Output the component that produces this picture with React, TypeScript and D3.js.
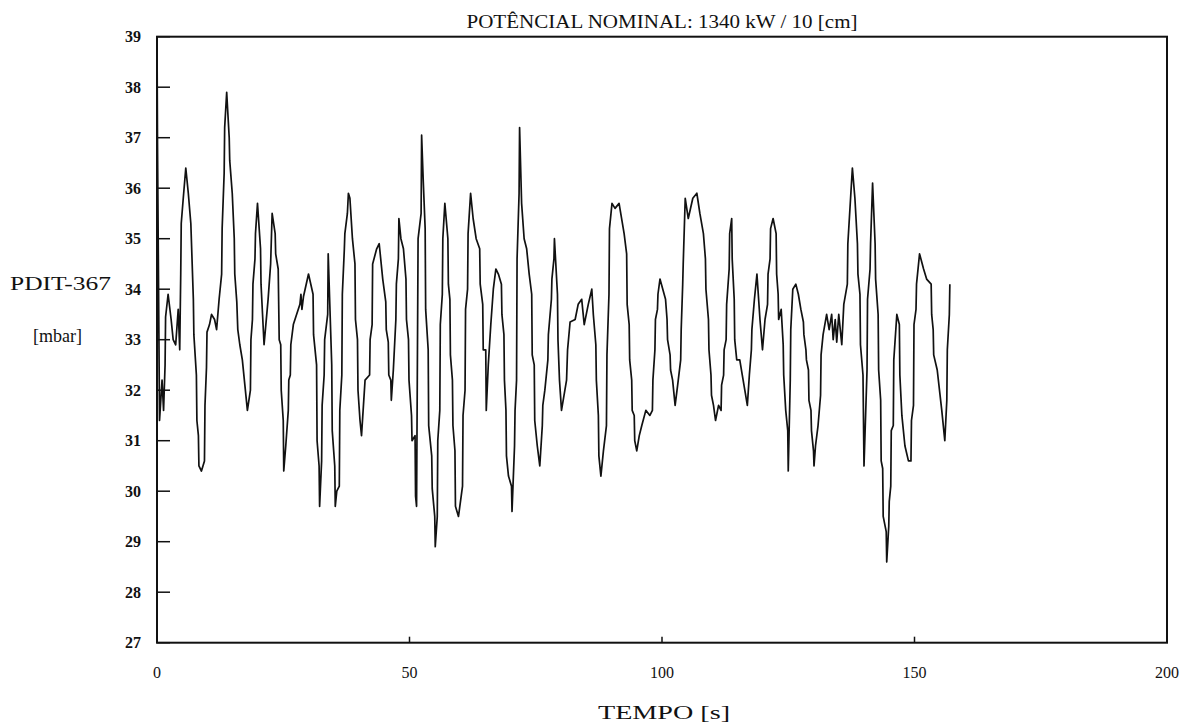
import React from "react";
import * as d3 from "d3";

const TITLE = "POTÊNCIAL NOMINAL: 1340 kW / 10 [cm]";
const Y_LABEL_TOP = "PDIT-367";
const Y_LABEL_UNIT = "[mbar]";
const X_LABEL = "TEMPO  [s]";

const xTicks = [0, 50, 100, 150, 200];
const yTicks = [27, 28, 29, 30, 31, 32, 33, 34, 35, 36, 37, 38, 39];
const xDomain: [number, number] = [0, 200];
const yDomain: [number, number] = [27, 39];

// [time s, pressure mbar]
const pdit367: [number, number][] = [
  [0.0, 39.0], [0.1, 36.9], [0.5, 31.4], [1.0, 32.2], [1.3, 31.6], [1.6, 32.5], [1.7, 33.45],
  [2.2, 33.9], [2.8, 33.4], [3.2, 33.0], [3.7, 32.9], [4.2, 33.6], [4.5, 32.8], [4.7, 34.3],
  [4.8, 35.3], [5.2, 35.8], [5.7, 36.4], [6.2, 35.9], [6.7, 35.3], [7.2, 33.8], [7.3, 33.1],
  [7.8, 32.3], [7.9, 31.4], [8.2, 31.1], [8.3, 30.5], [8.8, 30.4], [9.4, 30.6], [9.5, 31.7],
  [9.8, 32.45], [9.9, 33.15], [10.4, 33.3], [10.8, 33.5], [11.4, 33.4], [11.8, 33.2], [12.3, 33.8],
  [12.8, 34.3], [12.9, 35.2], [13.3, 36.3], [13.4, 37.2], [13.8, 37.9], [14.3, 37.0], [14.4, 36.55],
  [14.9, 35.9], [15.3, 35.0], [15.4, 34.3], [15.8, 33.75], [16.0, 33.2], [16.4, 32.9], [16.9, 32.6],
  [17.4, 32.1], [17.9, 31.6], [18.5, 32.0], [18.6, 33.0], [18.9, 33.4], [19.0, 34.1], [19.4, 34.6],
  [19.5, 35.1], [19.9, 35.7], [20.5, 34.8], [20.6, 34.1], [20.9, 33.5], [21.2, 32.9], [22.0, 33.8],
  [22.5, 34.5], [22.8, 35.5], [23.4, 35.1], [23.5, 34.7], [24.0, 34.4], [24.2, 33.0], [24.5, 32.9],
  [24.6, 32.0], [25.0, 31.4], [25.1, 30.4], [25.5, 30.9], [26.0, 31.6], [26.1, 32.2],
  [26.4, 32.3], [26.5, 32.9], [27.0, 33.3], [28.3, 33.7], [28.5, 33.9], [28.7, 33.6], [29.0, 33.85],
  [30.0, 34.3], [30.9, 33.9], [31.0, 33.1], [31.6, 32.5], [31.7, 31.0], [32.1, 30.5], [32.2, 29.7],
  [32.6, 30.6], [32.7, 31.7], [33.1, 32.3], [33.2, 33.0], [33.8, 33.5], [33.9, 34.7], [34.6, 32.5],
  [34.7, 31.2], [35.2, 30.5], [35.3, 29.7], [35.6, 30.0], [36.1, 30.1], [36.2, 31.6], [36.6, 32.3],
  [36.7, 33.9], [37.1, 34.8], [37.2, 35.1], [37.7, 35.5], [37.9, 35.9], [38.2, 35.8], [38.7, 35.0],
  [39.2, 34.5], [39.3, 33.4], [39.7, 33.0], [39.8, 32.0], [40.2, 31.4], [40.5, 31.1], [41.2, 32.2],
  [42.1, 32.3], [42.2, 33.0], [42.6, 33.3], [42.7, 34.5], [43.5, 34.8], [44.0, 34.9], [44.7, 34.2],
  [45.3, 33.75], [45.4, 33.2], [45.8, 32.95], [45.9, 32.3], [46.3, 32.2], [46.4, 31.8], [46.8, 32.4],
  [47.3, 33.4], [47.4, 34.1], [47.8, 34.6], [47.9, 35.4], [48.3, 35.0], [48.8, 34.8], [49.3, 34.2],
  [49.4, 33.4], [49.8, 33.0], [49.9, 32.2], [50.4, 31.5], [50.5, 31.0], [51.1, 31.1], [51.2, 29.9],
  [51.4, 29.7], [51.6, 33.2], [51.7, 35.0], [52.3, 35.5], [52.4, 37.05], [52.7, 36.2],
  [53.1, 35.2], [53.2, 33.6], [53.7, 32.8], [53.8, 31.3], [54.4, 30.7], [54.5, 30.05], [55.0, 29.5],
  [55.1, 28.9], [55.5, 29.5], [55.6, 31.0], [56.0, 31.6], [56.1, 33.3], [56.5, 33.9], [56.6, 35.0],
  [57.0, 35.7], [57.6, 35.0], [57.7, 34.1], [58.0, 33.8], [58.1, 32.7], [58.5, 32.2], [58.6, 31.3],
  [59.0, 30.8], [59.1, 29.7], [59.7, 29.5], [60.5, 30.1], [60.6, 31.5], [61.0, 32.0], [61.1, 33.6],
  [61.5, 34.0], [61.6, 35.1], [62.1, 35.9], [62.6, 35.4], [63.2, 35.0], [63.9, 34.8], [64.0, 34.1],
  [64.5, 33.7], [64.6, 32.8], [65.1, 32.8], [65.2, 31.6], [65.6, 32.5], [66.1, 33.3], [66.6, 34.0],
  [67.1, 34.4], [67.6, 34.3], [68.2, 34.1], [68.3, 33.5], [68.7, 33.1], [68.8, 32.2], [69.1, 31.6],
  [69.2, 30.7], [69.6, 30.3], [70.2, 30.1], [70.3, 29.6], [70.8, 30.9], [70.9, 31.6], [71.2, 32.2],
  [71.3, 34.6], [71.7, 35.9], [71.8, 37.2], [72.2, 35.7], [72.7, 35.0], [73.2, 34.8], [73.7, 34.3],
  [74.2, 33.9], [74.3, 32.7], [74.7, 32.5], [74.8, 31.4], [75.3, 30.9], [75.8, 30.5], [76.3, 31.3],
  [76.4, 31.7], [76.8, 32.0], [77.4, 32.6], [77.5, 33.1], [78.1, 33.8], [78.2, 34.2], [78.6, 34.6],
  [78.7, 35.0], [79.3, 33.9], [79.4, 33.0], [79.7, 32.2],
  [80.1, 31.6], [81.1, 32.2], [81.3, 32.8], [81.8, 33.35], [82.8, 33.4], [83.4, 33.7], [84.1, 33.8],
  [84.6, 33.3], [85.4, 33.7], [86.1, 34.0], [86.4, 33.5], [86.9, 32.9], [87.0, 32.2], [87.4, 31.5],
  [87.5, 30.7], [87.9, 30.3], [88.4, 30.8], [89.0, 31.3], [89.1, 32.7], [89.5, 33.9], [89.6, 35.2],
  [90.1, 35.7], [90.7, 35.6], [91.5, 35.7], [92.5, 35.1], [93.0, 34.7], [93.1, 33.7], [93.5, 33.3],
  [93.6, 32.6], [94.0, 32.2], [94.1, 31.6], [94.5, 31.5], [94.6, 31.0], [95.0, 30.8], [95.5, 31.1],
  [96.0, 31.3], [96.8, 31.6], [97.6, 31.5], [98.1, 31.6], [98.2, 32.2], [98.6, 32.8], [98.7, 33.4],
  [99.1, 33.6], [99.2, 33.9], [99.6, 34.2], [100.7, 33.8], [101.0, 33.4], [101.1, 33.0], [101.6, 32.7],
  [101.7, 32.4], [102.1, 32.2], [102.6, 31.7], [103.1, 32.1], [103.7, 32.6], [103.8, 33.2], [104.1, 34.1],
  [104.2, 34.5], [104.6, 35.8], [105.2, 35.4], [106.1, 35.8],
  [106.9, 35.9], [107.5, 35.5], [108.2, 35.1], [108.6, 34.6], [108.7, 34.0], [109.2, 33.4], [109.3, 32.8],
  [109.7, 32.3], [109.8, 31.9], [110.2, 31.7], [110.6, 31.4], [111.2, 31.7], [111.7, 31.6], [111.8, 32.1],
  [112.2, 32.3], [112.3, 32.8], [112.7, 33.0], [112.8, 33.7], [113.3, 34.4], [113.4, 35.1], [113.8, 35.4],
  [113.9, 34.6], [114.3, 33.8], [114.4, 33.0], [114.8, 32.6], [115.4, 32.6], [115.9, 32.3], [116.4, 32.0],
  [116.9, 31.7], [117.3, 32.3], [117.7, 32.8], [117.8, 33.2], [118.3, 33.8], [118.8, 34.3], [119.4, 33.4],
  [119.9, 32.8], [120.4, 33.4], [120.9, 33.7], [121.0, 34.3], [121.4, 34.6], [121.5, 35.2], [122.0, 35.4],
  [122.6, 35.1], [122.7, 34.3], [123.0, 33.9], [123.1, 33.4], [123.6, 33.6], [124.0, 32.9], [124.1, 32.3],
  [124.5, 31.6], [124.9, 31.2], [125.0, 30.4], [125.4, 32.2], [125.5, 33.2], [125.9, 34.0], [126.5, 34.1],
  [127.0, 33.9], [127.5, 33.6], [128.0, 33.35], [128.1, 33.1], [128.5, 32.8], [128.6, 32.6], [129.0, 32.4],
  [129.1, 31.8], [129.5, 31.6], [129.6, 31.2], [130.0, 30.8], [130.1, 30.5], [130.4, 30.9], [130.9, 31.3],
  [131.4, 31.9], [131.5, 32.7], [131.9, 33.1], [132.6, 33.5], [133.1, 33.2],
  [133.6, 33.5], [133.9, 33.0], [134.3, 33.4], [134.6, 32.95], [135.0, 33.5], [135.6, 32.9], [136.0, 33.7],
  [136.7, 34.1], [136.8, 34.9], [137.7, 36.4], [138.2, 35.8], [138.7, 34.9], [138.8, 34.3], [139.2, 33.9],
  [139.3, 32.9], [139.8, 32.3], [140.0, 30.5], [140.6, 32.4], [140.7, 33.8], [141.2, 34.4], [141.3, 34.9],
  [141.7, 36.1], [142.2, 34.9], [142.3, 34.2], [142.8, 33.5], [142.9, 32.4], [143.3, 31.8], [143.4, 30.6],
  [143.7, 30.45], [143.8, 29.5], [144.4, 29.2], [144.5, 28.6], [144.9, 29.3], [145.0, 29.8], [145.3, 30.1],
  [145.4, 31.2], [145.8, 31.3], [145.9, 32.6], [146.5, 33.5], [147.0, 33.3], [147.1, 32.3], [147.5, 31.5],
  [148.1, 30.9], [148.8, 30.6], [149.3, 30.6], [149.4, 31.4], [149.8, 31.7], [149.9, 33.3], [150.3, 33.6],
  [150.4, 34.1], [151.0, 34.7], [151.8, 34.4], [152.4, 34.2], [153.3, 34.1], [153.4, 33.5], [153.7, 33.2],
  [153.8, 32.7], [154.5, 32.4], [155.4, 31.6], [156.0, 31.0], [156.4, 31.8], [156.5, 32.8], [156.9, 33.5],
  [157.0, 34.1],
];

const W = 1197;
const H = 727;
const FONT = "'Liberation Serif', 'Times New Roman', serif";

export default function App() {
  const plot = { left: 157, right: 1167, top: 36.7, bottom: 642.7 };
  const x = d3.scaleLinear().domain(xDomain).range([plot.left, plot.right]);
  const y = d3.scaleLinear().domain(yDomain).range([plot.bottom, plot.top]);
  const line = d3
    .line<[number, number]>()
    .x((d) => x(d[0]))
    .y((d) => y(d[1]));

  return (
    <svg
      width={W}
      height={H}
      style={{ position: "absolute", left: 0, top: 0, background: "#fff" }}
      fontFamily={FONT}
    >
      <rect x={0} y={0} width={W} height={H} fill="#fff" />
      {/* title */}
      <text x={662} y={28} textAnchor="middle" fontSize={18} fill="#111" textLength={391} lengthAdjust="spacingAndGlyphs">
        {TITLE}
      </text>
      {/* y axis labels */}
      <text x={10} y={290} fontSize={19} fill="#111" textLength={101} lengthAdjust="spacingAndGlyphs">
        {Y_LABEL_TOP}
      </text>
      <text x={33} y={342} fontSize={18} fill="#111" textLength={49} lengthAdjust="spacingAndGlyphs">
        {Y_LABEL_UNIT}
      </text>
      {/* x label */}
      <text x={598} y={719} fontSize={18} fill="#111" textLength={132} lengthAdjust="spacingAndGlyphs">
        {X_LABEL}
      </text>

      {/* data */}
      <path d={line(pdit367) || ""} fill="none" stroke="#111" strokeWidth={1.7} strokeLinejoin="round" />

      {/* frame */}
      <rect
        x={plot.left}
        y={plot.top}
        width={plot.right - plot.left}
        height={plot.bottom - plot.top}
        fill="none"
        stroke="#111"
        strokeWidth={2}
      />

      {/* y ticks */}
      {yTicks.map((t) => (
        <g key={"y" + t}>
          <line x1={plot.left} x2={plot.left + 13} y1={y(t)} y2={y(t)} stroke="#111" strokeWidth={1.5} />
          <text x={141} y={y(t) + 5.5} textAnchor="end" fontSize={16} fontWeight="bold" fill="#111">
            {t}
          </text>
        </g>
      ))}

      {/* x ticks */}
      {xTicks.map((t) => (
        <g key={"x" + t}>
          <line x1={x(t)} x2={x(t)} y1={plot.bottom} y2={plot.bottom - 6} stroke="#111" strokeWidth={1.5} />
          <text x={x(t)} y={678} textAnchor="middle" fontSize={16} fill="#111">
            {t}
          </text>
        </g>
      ))}
    </svg>
  );
}
